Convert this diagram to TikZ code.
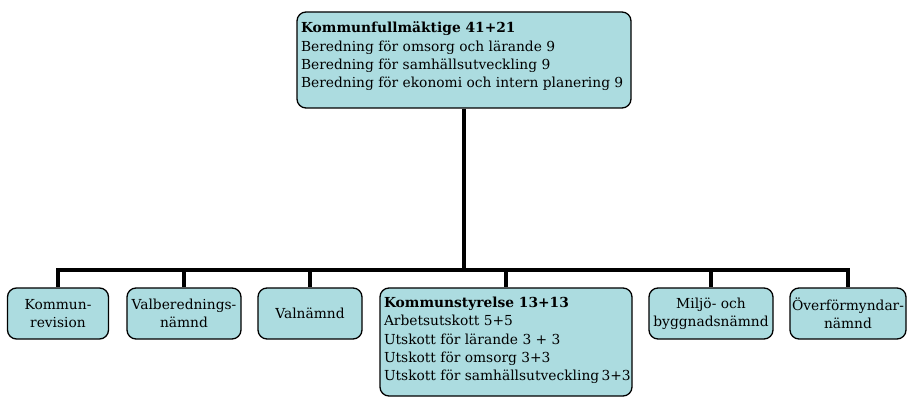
\documentclass[tikz,border=0pt]{standalone}
\usepackage{fontspec}
\setmainfont{DejaVu Serif}
\definecolor{boxfill}{RGB}{172,220,224}
\tikzset{
  orgbox/.style={draw, line width=1.3pt, rounded corners=9pt, fill=boxfill,
    font=\fontsize{13.8}{18.3}\selectfont},
  smallbox/.style={orgbox, align=center, minimum height=51pt, inner sep=1pt},
  conn/.style={line width=3.2pt}
}
\begin{document}
\begin{tikzpicture}[x=1pt, y=-1pt]
\useasboundingbox (0,0) rectangle (908,398);
\node[orgbox, inner sep=4pt] (kf) at (464,60)
  {\parbox[c][88pt][t]{326pt}{\raggedright\vspace*{6pt}\textbf{Kommunfullmäktige 41+21}\\
   Beredning för omsorg och lärande 9\\
   Beredning för samhällsutveckling 9\\
   \mbox{Beredning för ekonomi och intern planering 9}}};
\coordinate (bus) at (464,270);
\node[smallbox, minimum width=101pt] (rev) at (58,313.5) {Kommun-\\revision};
\node[smallbox, minimum width=114pt] (valb) at (184,313.5) {Valberednings-\\nämnd};
\node[smallbox, minimum width=104pt] (valn) at (310,313.5) {Valnämnd};
\node[orgbox, inner sep=4pt] (ks) at (506,342)
  {\parbox[c][100pt][t]{244pt}{\raggedright\vspace*{5pt}\textbf{Kommunstyrelse 13+13}\\
   Arbetsutskott 5+5\\
   Utskott för lärande 3 + 3\\
   Utskott för omsorg 3+3\\
   \mbox{Utskott för samhällsutveckling\,3+3}}};
\node[smallbox, minimum width=124pt] (milj) at (711,313.5) {Miljö- och\\byggnadsnämnd};
\node[smallbox, minimum width=116pt] (overf) at (848,313.5) {Överförmyndar-\\nämnd};
\draw[conn] (kf.south) -- (kf.south |- bus);
\draw[conn] (bus) -| (rev.north);
\draw[conn] (bus) -| (valb.north);
\draw[conn] (bus) -| (valn.north);
\draw[conn] (bus) -| (ks.north);
\draw[conn] (bus) -| (milj.north);
\draw[conn] (bus) -| (overf.north);
\end{tikzpicture}
\end{document}
